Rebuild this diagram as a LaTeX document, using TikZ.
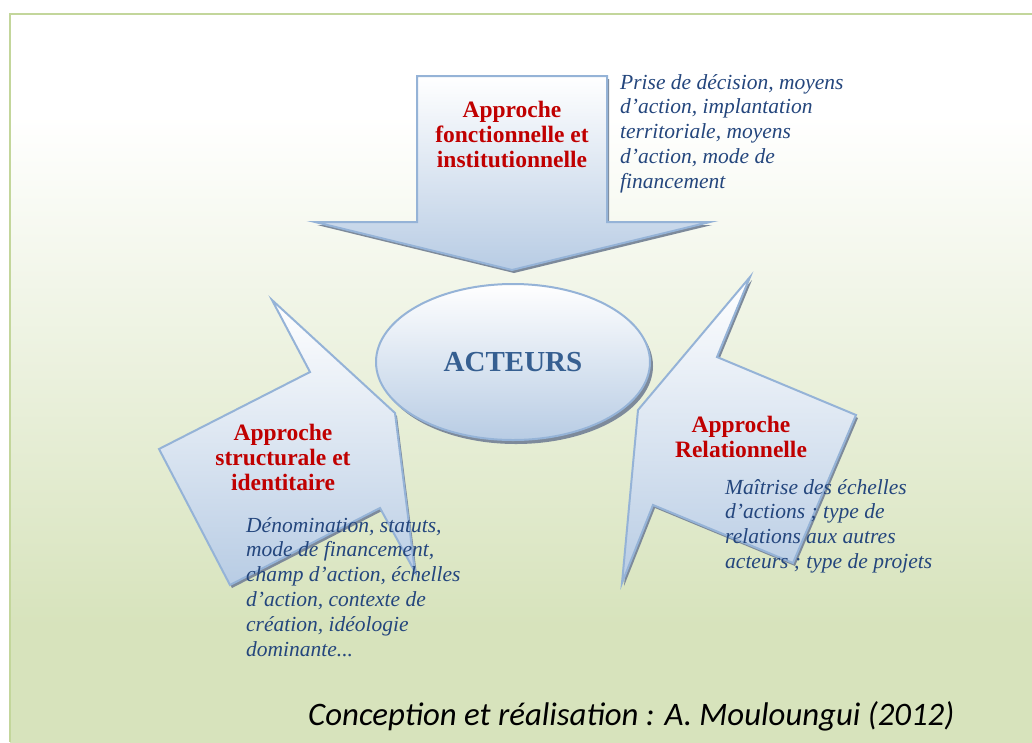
\documentclass[tikz,border=0pt]{standalone}
\usepackage{fontspec}
\setmainfont{Liberation Serif}
\newfontfamily\capfont{Carlito}
\usetikzlibrary{shapes.geometric}
\definecolor{bggreen}{RGB}{215,227,188}
\definecolor{framec}{RGB}{195,214,155}
\definecolor{arrowblue}{RGB}{184,204,228}
\definecolor{arrowedge}{RGB}{149,179,215}
\definecolor{shadowc}{RGB}{125,138,155}
\definecolor{titlered}{RGB}{192,0,0}
\definecolor{descblue}{RGB}{36,70,125}
\definecolor{actblue}{RGB}{54,95,145}
\pgfdeclareverticalshading{bgshade}{100bp}{color(0bp)=(bggreen); color(33bp)=(bggreen); color(68bp)=(white); color(100bp)=(white)}
\tikzset{
  arrowshape/.style={top color=white, bottom color=arrowblue, draw=arrowedge, line width=2pt, line join=miter},
  shadowshape/.style={fill=shadowc, shift={(2,3)}},
  titletext/.style={inner sep=0pt, text=titlered, font=\bfseries\fontsize{23.5}{25}\selectfont},
  desctext/.style={inner sep=0pt, text=descblue, font=\itshape\fontsize{21.5}{24.8}\selectfont},
}
\def\arrowT{(417,76) -- (607,76) -- (607,222) -- (710,222) -- (512,270) -- (315,222) -- (417,222) -- cycle}
\def\arrowL{(272,300) -- (395,413) -- (415,572) -- (380,508) -- (230,585) -- (159,449) -- (310,372) -- cycle}
\def\arrowR{(750,277) -- (717,357) -- (856,415) -- (793,563) -- (653,505) -- (622,583) -- (638,410) -- cycle}
\begin{document}
\begin{tikzpicture}[x=1pt,y=-1pt]
\useasboundingbox (0,0) rectangle (1032,742);
\fill[white] (0,0) rectangle (1032,742);
\shade[shading=bgshade] (10,14) rectangle (1032,742);
\draw[framec, line width=2.5pt] (10,742) -- (10,14) -- (1032,14);
% arrows
\fill[shadowshape] \arrowL;
\shadedraw[arrowshape] \arrowL;
\fill[shadowshape] \arrowR;
\shadedraw[arrowshape] \arrowR;
\fill[shadowshape] \arrowT;
\shadedraw[arrowshape] \arrowT;
% ellipse
\fill[shadowc] (516,366) ellipse [x radius=137, y radius=78];
\node[ellipse, draw=arrowedge, line width=2pt, top color=white, bottom color=arrowblue,
      minimum width=274pt, minimum height=156pt, inner sep=0pt, text=actblue,
      font=\bfseries\fontsize{29}{29}\selectfont] (acteurs) at (513,362) {ACTEURS};
% titles
\node[titletext, anchor=base] (t1) at (512,117) {\parbox[t]{260pt}{\centering Approche\\fonctionnelle et\\institutionnelle}};
\node[titletext, anchor=base] (t2) at (283,440) {\parbox[t]{260pt}{\centering Approche\\structurale et\\identitaire}};
\node[titletext, anchor=base] (t3) at (741,432) {\parbox[t]{260pt}{\centering Approche\\Relationnelle}};
% descriptions
\node[desctext, anchor=base west] (d1) at (620,89) {\parbox[t]{330pt}{\raggedright Prise de décision, moyens\\d’action, implantation\\territoriale, moyens\\d’action, mode de\\financement}};
\node[desctext, anchor=base west] (d2) at (246,532) {\parbox[t]{330pt}{\raggedright Dénomination, statuts,\\mode de financement,\\champ d’action, échelles\\d’action, contexte de\\création, idéologie\\dominante...}};
\node[desctext, anchor=base west] (d3) at (725,494) {\parbox[t]{330pt}{\raggedright Maîtrise des échelles\\d’actions ; type de\\relations aux autres\\acteurs ; type de projets}};
% caption
\node[anchor=base west, inner sep=0pt, font=\capfont\itshape\fontsize{32.8}{33}\selectfont] (cap) at (308,725) {Conception et réalisation : A. Mouloungui (2012)};
\end{tikzpicture}
\end{document}
